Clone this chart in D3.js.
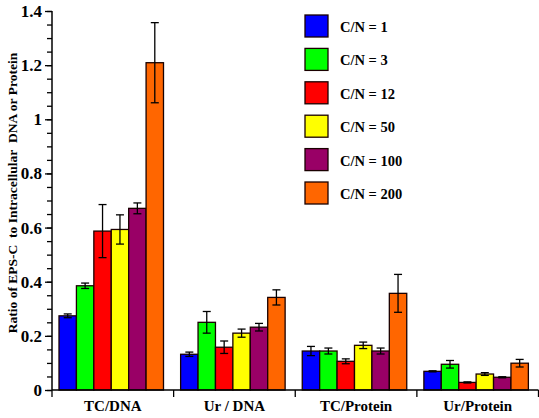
<!DOCTYPE html>
<html>
<head>
<meta charset="utf-8">
<script src="https://cdn.jsdelivr.net/npm/d3@7"></script>
<style>
  body { margin: 0; background: #fff; }
  svg { display: block; }
  svg text { font-family: "Times New Roman", "Liberation Serif", "DejaVu Serif", serif !important; }
</style>
</head>
<body>
<svg></svg>
<script>
const width = 539;
const height = 418;
const serif = "'Times New Roman', 'Liberation Serif', 'DejaVu Serif', serif";

// groups along the x axis
const categories = ["TC/DNA", "Ur / DNA", "TC/Protein", "Ur/Protein"];
// one series per C/N ratio
const seriesLabels = ["C/N = 1", "C/N = 3", "C/N = 12", "C/N = 50", "C/N = 100", "C/N = 200"];
const seriesColors = ["#0000ff", "#00ff00", "#ff0000", "#ffff00", "#990066", "#ff6600"];
// bar heights, row = series, column = category
const means = [
  [0.274, 0.132, 0.144, 0.069],
  [0.385, 0.250, 0.144, 0.095],
  [0.587, 0.158, 0.106, 0.028],
  [0.593, 0.210, 0.165, 0.059],
  [0.671, 0.232, 0.144, 0.047],
  [1.209, 0.342, 0.357, 0.099]
];
// error bar half widths
const errors = [
  [0.007, 0.008, 0.017, 0.002],
  [0.010, 0.040, 0.011, 0.014],
  [0.098, 0.023, 0.009, 0.002],
  [0.054, 0.015, 0.012, 0.005],
  [0.020, 0.014, 0.011, 0.002],
  [0.148, 0.028, 0.070, 0.014]
];
const yMajorTicks = [0, 0.2, 0.4, 0.6, 0.8, 1, 1.2, 1.4];
const yTitle = "Ratio of EPS-C\u00a0 to Intracellular\u00a0 DNA or Protein";

const svg = d3.select("svg").attr("width", width).attr("height", height).attr("font-family", serif);

const xScale = d3.scaleBand().domain(categories).range([52, 538.5]).paddingInner(0).paddingOuter(0);
// bars sit a bit left of the band centre
const xInner = d3.scaleBand().domain(d3.range(seriesLabels.length)).range([7, 111.5]);
const yScale = d3.scaleLinear().domain([0, 1.4]).range([390, 11]);

// bars
const rows = [];
means.forEach((row, s) => {
  row.forEach((v, c) => rows.push({ s: s, c: c, v: v, e: errors[s][c] }));
});

const bars = svg.append("g");
bars.selectAll("rect")
  .data(rows)
  .enter()
  .append("rect")
  .attr("x", (d) => xScale(categories[d.c]) + xInner(d.s))
  .attr("width", xInner.bandwidth())
  .attr("y", (d) => yScale(d.v))
  .attr("height", (d) => yScale(0) - yScale(d.v))
  .attr("fill", (d) => seriesColors[d.s])
  .attr("stroke", "#1a0000")
  .attr("stroke-width", 1.3);

// error bars
const errG = svg.append("g").attr("stroke", "#000").attr("stroke-width", 1.3);
rows.forEach((d) => {
  const cx = xScale(categories[d.c]) + xInner(d.s) + xInner.bandwidth() / 2;
  const y1 = yScale(d.v + d.e);
  const y2 = yScale(d.v - d.e);
  errG.append("line").attr("x1", cx).attr("x2", cx).attr("y1", y1).attr("y2", y2);
  errG.append("line").attr("x1", cx - 4).attr("x2", cx + 4).attr("y1", y1).attr("y2", y1);
  errG.append("line").attr("x1", cx - 4).attr("x2", cx + 4).attr("y1", y2).attr("y2", y2);
});

// y axis: minor ticks then major ticks with labels
const yMinor = d3.axisLeft(yScale).tickValues(d3.range(0, 1.4001, 0.05)).tickSize(5).tickFormat("");
svg.append("g")
  .attr("transform", "translate(52,0)")
  .call(yMinor)
  .call((g) => g.select(".domain").remove())
  .selectAll("line").attr("stroke", "#000").attr("stroke-width", 1.3);

const yAxis = d3.axisLeft(yScale).tickValues(yMajorTicks).tickSize(7).tickPadding(3).tickFormat(d3.format("~g"));
const yg = svg.append("g")
  .attr("transform", "translate(52,0)")
  .call(yAxis)
  .attr("font-family", serif);
yg.select(".domain").remove();
yg.selectAll("line").attr("stroke", "#000").attr("stroke-width", 1.3);
yg.selectAll("text")
  .attr("font-size", 17)
  .attr("font-weight", "bold")
  .attr("fill", "#000");

svg.append("line")
  .attr("x1", 52).attr("x2", 52)
  .attr("y1", yScale(1.4)).attr("y2", yScale(0))
  .attr("stroke", "#000").attr("stroke-width", 1.5);

// x axis with ticks at category boundaries
svg.append("line")
  .attr("x1", 52).attr("x2", 538.5)
  .attr("y1", yScale(0)).attr("y2", yScale(0))
  .attr("stroke", "#000").attr("stroke-width", 1.5);

const boundaries = categories.map((c) => xScale(c)).concat([xScale.range()[1]]);
svg.append("g").selectAll("line")
  .data(boundaries)
  .enter()
  .append("line")
  .attr("x1", (d) => d).attr("x2", (d) => d)
  .attr("y1", yScale(0)).attr("y2", yScale(0) + 7)
  .attr("stroke", "#000").attr("stroke-width", 1.3);

svg.append("g").selectAll("text")
  .data(categories)
  .enter()
  .append("text")
  .attr("x", (d) => xScale(d) + xScale.bandwidth() / 2)
  .attr("y", 411)
  .attr("text-anchor", "middle")
  .attr("font-size", 15)
  .attr("font-weight", "bold")
  .text((d) => d);

// y title
svg.append("text")
  .attr("transform", "translate(17,193) rotate(-90)")
  .attr("text-anchor", "middle")
  .attr("font-size", 13.5)
  .attr("font-weight", "bold")
  .text(yTitle);

// legend
const legend = svg.append("g")
  .selectAll("g")
  .data(seriesLabels)
  .enter()
  .append("g")
  .attr("transform", (d, i) => "translate(305," + (15 + i * 33.4) + ")");

legend.append("rect")
  .attr("width", 23)
  .attr("height", 22)
  .attr("fill", (d, i) => seriesColors[i])
  .attr("stroke", "#1a0000")
  .attr("stroke-width", 1.3);

legend.append("text")
  .attr("x", 35)
  .attr("y", 17)
  .attr("font-size", 14.5)
  .attr("font-weight", "bold")
  .text((d) => d);
</script>
</body>
</html>
